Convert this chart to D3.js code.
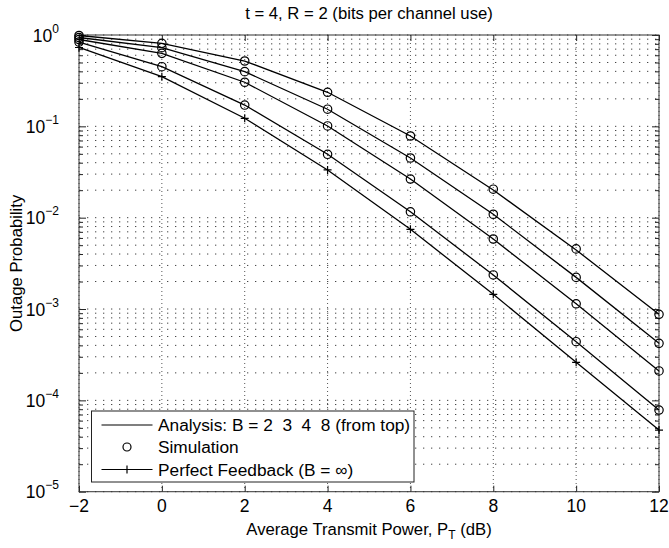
<!DOCTYPE html>
<html>
<head>
<meta charset="utf-8">
<script src="https://cdn.jsdelivr.net/npm/d3@7"></script>
<style>
  html, body { margin: 0; padding: 0; background: #fff; }
  svg { display: block; font-family: "Liberation Sans", Arial, sans-serif; }
  text { white-space: pre; }
</style>
</head>
<body>
<svg id="chart" width="669" height="548"></svg>
<script>
// ---- data ----
const powerDb = [-2, 0, 2, 4, 6, 8, 10, 12];
const analysisB2 = [0.987, 0.811, 0.519, 0.236, 0.0784, 0.0201, 0.00443, 8.75e-4];
const analysisB3 = [0.939, 0.726, 0.397, 0.154, 0.045, 0.0109, 0.00222, 4.21e-4];
const analysisB4 = [0.893, 0.630, 0.304, 0.101, 0.0265, 0.00584, 0.00114, 2.10e-4];
const analysisB8 = [0.838, 0.450, 0.171, 0.0494, 0.0116, 0.00236, 4.39e-4, 7.83e-5];
const simB2 = [0.987, 0.811, 0.519, 0.236, 0.0784, 0.0205, 0.00455, 8.75e-4];
const simB3 = [0.939, 0.726, 0.397, 0.154, 0.045, 0.0109, 0.00222, 4.21e-4];
const simB4 = [0.893, 0.630, 0.304, 0.101, 0.0265, 0.00584, 0.00114, 2.10e-4];
const simB8 = [0.838, 0.450, 0.171, 0.0494, 0.0116, 0.00236, 4.39e-4, 7.83e-5];
const perfectFeedback = [0.730, 0.350, 0.1225, 0.0333, 0.00746, 0.00145, 2.61e-4, 4.73e-5];
const xTicks = [-2, 0, 2, 4, 6, 8, 10, 12];
const yDecadeExponents = [0, -1, -2, -3, -4, -5];
const titleText = "t = 4, R = 2 (bits per channel use)";
const yLabel = "Outage Probability";
const legendLabels = ["Analysis: B = 2  3  4  8 (from top)", "Simulation", "Perfect Feedback (B = \u221E)"];

// ---- layout ----
const svg = d3.select("#chart");
const L = 79, R = 659, T = 35, B = 491.7;
const x = d3.scaleLinear().domain([-2, 12]).range([L, R]);
const y = d3.scaleLog().domain([1e-5, 1]).range([B, T]);

// grid
const grid = svg.append("g");
const minorVals = [];
for (let e = -5; e < 0; e++) for (let m = 1; m <= 9; m++) minorVals.push(m * Math.pow(10, e));
minorVals.push(1);
grid.selectAll("line.h").data(minorVals).join("line")
  .attr("x1", L).attr("x2", R)
  .attr("y1", d => y(d)).attr("y2", d => y(d))
  .attr("stroke", "#444").attr("stroke-width", 1)
  .attr("stroke-dasharray", "1.3,6.7");
grid.selectAll("line.v").data(xTicks).join("line")
  .attr("x1", d => x(d)).attr("x2", d => x(d))
  .attr("y1", T).attr("y2", B)
  .attr("stroke", "#555").attr("stroke-width", 1)
  .attr("stroke-dasharray", "1,3");

// axes (MATLAB-style inward ticks on all sides)
const fmtNone = () => "";
svg.append("g").attr("transform", `translate(0,${B})`)
  .call(d3.axisBottom(x).tickValues(xTicks).tickSize(-6).tickFormat(fmtNone))
  .call(g => g.select(".domain").remove());
svg.append("g").attr("transform", `translate(0,${T})`)
  .call(d3.axisTop(x).tickValues(xTicks).tickSize(-6).tickFormat(fmtNone))
  .call(g => g.select(".domain").remove());
const majorY = yDecadeExponents.map(e => Math.pow(10, e));
const minorOnly = minorVals.filter(v => !majorY.some(m => Math.abs(m - v) / v < 1e-9));
[[d3.axisLeft, L], [d3.axisRight, R]].forEach(([ax, pos]) => {
  svg.append("g").attr("transform", `translate(${pos},0)`)
    .call(ax(y).tickValues(majorY).tickSize(-7).tickFormat(fmtNone))
    .call(g => g.select(".domain").remove());
  svg.append("g").attr("transform", `translate(${pos},0)`)
    .call(ax(y).tickValues(minorOnly).tickSize(-4).tickFormat(fmtNone))
    .call(g => g.select(".domain").remove());
});
svg.selectAll(".tick line").attr("stroke", "#222");

// x tick labels
svg.append("g").selectAll("text").data(xTicks).join("text")
  .attr("x", d => x(d)).attr("y", 511.5)
  .attr("text-anchor", "middle").attr("font-size", 17.5)
  .text(d => d < 0 ? "\u2212" + Math.abs(d) : d);

// y tick labels
const yl = svg.append("g").selectAll("text").data(yDecadeExponents).join("text")
  .attr("x", 59).attr("y", d => y(Math.pow(10, d)) + 6.5)
  .attr("text-anchor", "end").attr("font-size", 17.5);
yl.append("tspan").text("10");
yl.append("tspan").attr("dy", -9).attr("font-size", 12)
  .text(d => d < 0 ? "\u2212" + Math.abs(d) : d);

// frame
svg.append("rect").attr("x", L).attr("y", T).attr("width", R - L).attr("height", B - T)
  .attr("fill", "none").attr("stroke", "#333").attr("stroke-width", 1);

// titles
svg.append("text").attr("x", (L + R) / 2).attr("y", 18.5).attr("text-anchor", "middle")
  .attr("font-size", 16.7).text(titleText);
const xl = svg.append("text").attr("x", (L + R) / 2).attr("y", 535).attr("text-anchor", "middle")
  .attr("font-size", 16.7);
xl.append("tspan").text("Average Transmit Power, P");
xl.append("tspan").attr("dy", 4).attr("font-size", 12).text("T");
xl.append("tspan").attr("dy", -4).text(" (dB)");
svg.append("text").attr("transform", `translate(21.5,${(T + B) / 2}) rotate(-90)`)
  .attr("text-anchor", "middle").attr("font-size", 16.7).text(yLabel);

// series
const line = d3.line().x((d, i) => x(powerDb[i])).y(d => y(d));
const curves = [analysisB2, analysisB3, analysisB4, analysisB8, perfectFeedback];
const plot = svg.append("g");
plot.selectAll("path.curve").data(curves).join("path")
  .attr("d", line).attr("fill", "none").attr("stroke", "#000").attr("stroke-width", 1.3);

const sims = [simB2, simB3, simB4, simB8];
sims.forEach(s => {
  plot.append("g").selectAll("circle").data(s).join("circle")
    .attr("cx", (d, i) => x(powerDb[i])).attr("cy", d => y(d)).attr("r", 4.2)
    .attr("fill", "none").attr("stroke", "#000").attr("stroke-width", 1.2);
});
const plusPath = (cx, cy, h) => `M${cx - h},${cy}H${cx + h}M${cx},${cy - h}V${cy + h}`;
plot.append("g").selectAll("path").data(perfectFeedback).join("path")
  .attr("d", (d, i) => plusPath(x(powerDb[i]), y(d), 4))
  .attr("stroke", "#000").attr("stroke-width", 1.2).attr("fill", "none");

// legend
const lg = svg.append("g");
lg.append("rect").attr("x", 91.5).attr("y", 411).attr("width", 322.5).attr("height", 71)
  .attr("fill", "#fff").attr("stroke", "#222").attr("stroke-width", 1);
const rowY = [425, 447, 469.5];
lg.selectAll("text").data(legendLabels).join("text")
  .attr("x", 158).attr("y", (d, i) => rowY[i] + 6).attr("font-size", 17.3).text(d => d);
lg.append("line").attr("x1", 101.5).attr("x2", 152.5).attr("y1", rowY[0]).attr("y2", rowY[0])
  .attr("stroke", "#000").attr("stroke-width", 1.2);
lg.append("circle").attr("cx", 127).attr("cy", rowY[1]).attr("r", 4)
  .attr("fill", "none").attr("stroke", "#000").attr("stroke-width", 1.2);
lg.append("line").attr("x1", 101.5).attr("x2", 152.5).attr("y1", rowY[2]).attr("y2", rowY[2])
  .attr("stroke", "#000").attr("stroke-width", 1.2);
lg.append("path").attr("d", plusPath(127, rowY[2], 4)).attr("stroke", "#000").attr("stroke-width", 1.2);
</script>
</body>
</html>
